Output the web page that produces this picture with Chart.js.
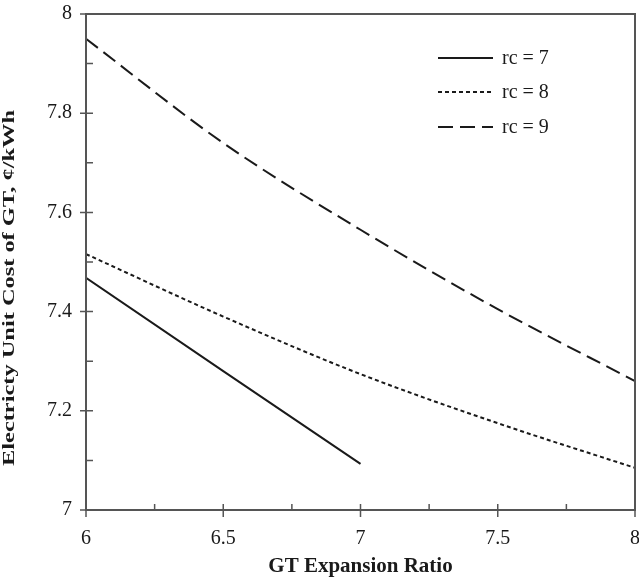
<!DOCTYPE html>
<html>
<head>
<meta charset="utf-8">
<script src="https://cdn.jsdelivr.net/npm/chart.js@4.4.1/dist/chart.umd.min.js"></script>
<style>
  html, body { margin: 0; padding: 0; background: #fff; overflow: hidden; }
  canvas { display: block; }
</style>
</head>
<body>
<canvas id="costChart" width="639" height="582"></canvas>
<script>
// Expansion ratio on x, electricity unit cost (¢/kWh) per compressor ratio
const expansionRatio = [6, 6.5, 7, 7.5, 8];
const costRc7 = [7.468, 7.28, 7.093];
const costRc8 = [7.516, 7.39, 7.274, 7.175, 7.085];
const costRc9 = [7.95, 7.74, 7.565, 7.405, 7.26];

const seriesLabels = ['rc = 7', 'rc = 8', 'rc = 9'];
const yTickStep = 0.2;
const xTickStep = 0.5;
const yTitle = 'Electricty Unit Cost of GT, ¢/kWh';

const serif = '"Liberation Serif", "Times New Roman", serif';
const ink = '#1a1a1a';
const axisGrey = '#555555';

function toPoints(values) {
    return values.map((v, i) => ({ x: expansionRatio[i], y: v }));
}

function tickText(v) {
    return String(Math.round(v * 10) / 10);
}

// frame, crossing major ticks, inner minor ticks, y title and the line legend
const framePlugin = {
    id: 'framePlugin',
    afterDraw(chart) {
        const ctx = chart.ctx;
        const area = chart.chartArea;
        const xs = chart.scales.x;
        const ys = chart.scales.y;

        ctx.save();
        ctx.strokeStyle = axisGrey;
        ctx.lineWidth = 2;
        ctx.strokeRect(area.left, area.top, area.right - area.left, area.bottom - area.top);

        ctx.lineWidth = 1.5;
        ctx.beginPath();
        // x ticks: majors every 0.5, minors in between
        for (let v = 6; v <= 8.0001; v += 0.25) {
            const px = xs.getPixelForValue(v);
            const major = Math.abs(v / xTickStep - Math.round(v / xTickStep)) < 1e-6;
            ctx.moveTo(px, area.bottom + (major ? 7 : 0));
            ctx.lineTo(px, area.bottom - 6);
        }
        // y ticks: majors every 0.2, minors every 0.1
        for (let i = 0; i <= 10; i++) {
            const py = ys.getPixelForValue(7 + i * 0.1);
            const major = i % 2 === 0;
            ctx.moveTo(area.left - (major ? 6 : 0), py);
            ctx.lineTo(area.left + 7, py);
        }
        ctx.stroke();

        // rotated y title, stretched along its length
        ctx.fillStyle = ink;
        ctx.font = 'bold 17px ' + serif;
        const w = ctx.measureText(yTitle).width;
        const stretch = 356 / w;
        ctx.translate(10, 288);
        ctx.rotate(-Math.PI / 2);
        ctx.scale(stretch, 1);
        ctx.textAlign = 'center';
        ctx.textBaseline = 'middle';
        ctx.fillText(yTitle, 0, 0);
        ctx.setTransform(1, 0, 0, 1, 0, 0);

        // legend
        const rowY = [58, 92, 127];
        chart.data.datasets.forEach((ds, i) => {
            ctx.strokeStyle = ds.borderColor;
            ctx.lineWidth = 2;
            ctx.setLineDash(ds.borderDash || []);
            ctx.beginPath();
            ctx.moveTo(438, rowY[i]);
            ctx.lineTo(493, rowY[i]);
            ctx.stroke();
            ctx.setLineDash([]);
            ctx.fillStyle = ink;
            ctx.font = '20px ' + serif;
            ctx.textBaseline = 'middle';
            ctx.textAlign = 'left';
            ctx.fillText(ds.label, 502, rowY[i] + 1);
        });
        ctx.restore();
    }
};

const ctx = document.getElementById('costChart').getContext('2d');

new Chart(ctx, {
    type: 'line',
    data: {
        datasets: [
            {
                label: seriesLabels[0],
                data: toPoints(costRc7),
                borderColor: ink,
                borderWidth: 2,
                pointRadius: 0,
                fill: false
            },
            {
                label: seriesLabels[1],
                data: toPoints(costRc8),
                borderColor: ink,
                borderWidth: 2,
                borderDash: [4, 3],
                pointRadius: 0,
                cubicInterpolationMode: 'monotone',
                fill: false
            },
            {
                label: seriesLabels[2],
                data: toPoints(costRc9),
                borderColor: ink,
                borderWidth: 2,
                borderDash: [15, 7],
                pointRadius: 0,
                cubicInterpolationMode: 'monotone',
                fill: false
            }
        ]
    },
    options: {
        responsive: false,
        animation: false,
        layout: {
            padding: { top: 14, right: 4, bottom: 0, left: 0 }
        },
        plugins: {
            legend: { display: false },
            tooltip: { enabled: false }
        },
        scales: {
            x: {
                type: 'linear',
                min: 6,
                max: 8,
                grid: { display: false, drawTicks: false },
                border: { display: false },
                afterFit(scale) {
                    scale.height = 72;
                    scale.paddingLeft = 0;
                    scale.paddingRight = 0;
                },
                ticks: {
                    stepSize: xTickStep,
                    padding: 17,
                    color: ink,
                    callback: tickText,
                    font: { family: serif, size: 20 }
                },
                title: {
                    display: true,
                    text: 'GT Expansion Ratio',
                    color: ink,
                    padding: { top: 0, bottom: 3 },
                    font: { family: serif, size: 21, weight: 'bold' }
                }
            },
            y: {
                min: 7,
                max: 8,
                grid: { display: false, drawTicks: false },
                border: { display: false },
                afterFit(scale) {
                    scale.width = 86;
                    scale.paddingTop = 0;
                    scale.paddingBottom = 0;
                },
                ticks: {
                    stepSize: yTickStep,
                    padding: 14,
                    color: ink,
                    callback: tickText,
                    font: { family: serif, size: 20 }
                }
            }
        }
    },
    plugins: [framePlugin]
});
</script>
</body>
</html>
